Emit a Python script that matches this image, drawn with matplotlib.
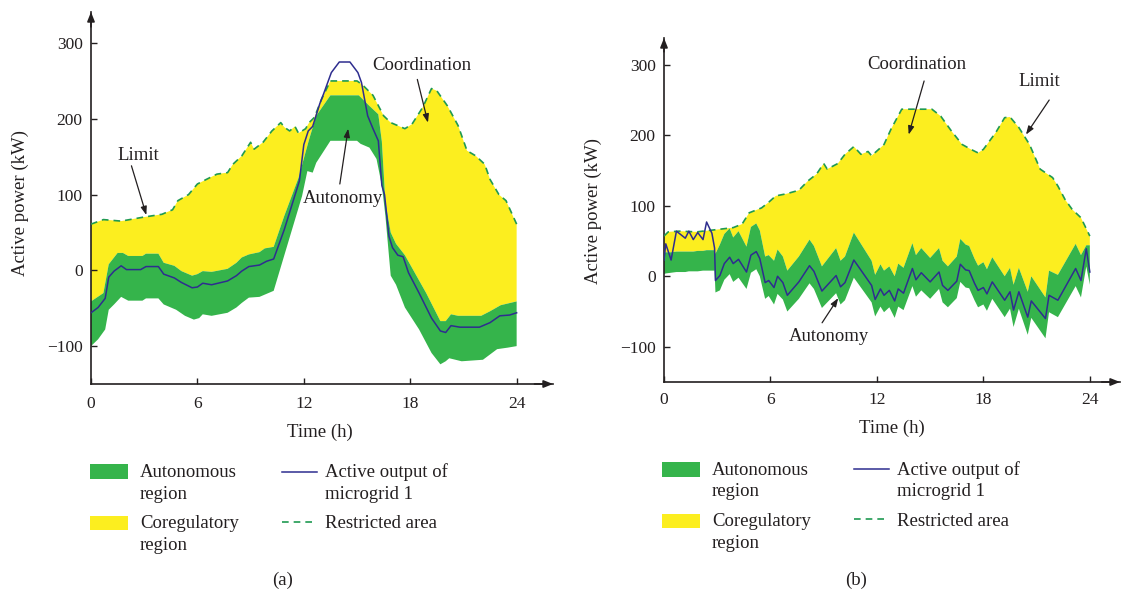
import numpy as np
import matplotlib
matplotlib.use("Agg")
import matplotlib.pyplot as plt
from matplotlib.patches import Rectangle
from matplotlib.lines import Line2D

plt.rcParams['font.family'] = ['Liberation Serif', 'DejaVu Serif']
plt.rcParams['axes.unicode_minus'] = True

# ---------------- data: panel (a) ----------------
t_limit_a = [0, 0.7, 1.7, 2.9, 4.0, 4.6, 4.9, 5.5, 6.0, 6.5, 7.1, 7.7, 8.0, 8.5, 9.0, 9.2,
             9.7, 10.2, 10.7, 10.9, 11.2, 11.5, 11.7, 12.1, 12.3, 12.6, 13.0, 13.5, 15.0,
             15.3, 15.9, 16.5, 16.9, 17.7, 18.1, 18.7, 19.2, 19.5, 20.1, 20.7, 21.2, 21.7,
             22.2, 22.5, 23.0, 23.4, 24.0]
limit_a = [61, 67, 65, 70, 74, 80, 92, 100, 114, 120, 127, 129, 140, 151, 169, 160,
           169, 184, 195, 189, 184, 190, 181, 187, 195, 202, 226, 250, 250,
           245, 231, 204, 195, 187, 193, 215, 240, 237, 217, 191, 158, 151,
           140, 120, 100, 92, 61]

t_upper_a = [0, 0.7, 1.0, 1.5, 1.8, 2.1, 2.9, 3.1, 3.8, 4.1, 4.7, 5.1, 5.7, 6.0, 6.3,
             6.8, 7.7, 8.2, 8.5, 8.9, 9.5, 9.8, 10.3, 10.9, 11.7, 12.3, 12.7, 13.5, 15.1,
             15.7, 16.2, 16.4, 16.6, 16.9, 17.2, 17.7, 18.9, 19.7, 20.0, 20.3, 20.7, 22.0,
             22.5, 23.1, 24.0]
upper_a = [-41, -30, 8, 23, 23, 19, 19, 22, 22, 10, 6, -1, -7, -5, -1,
           -2, 2, 10, 17, 21, 24, 29, 31, 72, 122, 173, 204, 231, 231,
           217, 206, 170, 90, 50, 35, 20, -30, -67, -67, -58, -60, -60,
           -54, -46, -41]

t_lower_a = [0, 0.4, 0.8, 1.0, 1.3, 1.7, 2.1, 2.9, 3.1, 3.8, 4.1, 4.8, 5.3, 5.8, 6.1,
             6.3, 6.8, 7.7, 8.2, 8.5, 8.9, 9.5, 9.8, 10.3, 11.9, 12.2, 12.5, 12.7, 13.5,
             15.0, 15.2, 15.7, 16.1, 16.4, 16.6, 16.9, 17.2, 17.7, 18.5, 19.2, 19.7, 20.0,
             20.2, 20.9, 22.1, 22.9, 23.5, 24.0]
lower_a = [-100, -91, -78, -52, -45, -35, -40, -40, -37, -37, -45, -52, -60, -65, -63,
           -58, -60, -56, -49, -43, -36, -35, -32, -27, 98, 131, 129, 142, 171,
           171, 167, 162, 147, 112, 72, -7, -19, -49, -78, -109, -124, -120,
           -116, -120, -118, -104, -102, -100]

t_output_a = [0, 0.4, 0.8, 1.0, 1.3, 1.7, 2.0, 2.8, 3.1, 3.8, 4.1, 4.7, 5.1, 5.7, 6.0,
              6.3, 6.8, 7.7, 8.2, 8.5, 8.9, 9.5, 9.9, 10.3, 10.9, 11.75, 12.0, 12.25, 12.5,
              12.9, 13.1, 13.55, 14.0, 14.6, 15.05, 15.25, 15.6, 15.9, 16.2, 16.4, 16.55,
              16.8, 17.0, 17.3, 17.6, 17.9, 18.5, 19.2, 19.7, 20.0, 20.3, 20.8, 21.9, 22.5,
              23.05, 23.6, 24.0]
output_a = [-56, -49, -37, -9, -1, 6, 1, 1, 5, 5, -5, -10, -16, -23, -22,
            -17, -19, -14, -7, -1, 5, 7, 12, 15, 54, 118, 166, 184, 190,
            220, 232, 261, 275, 275, 261, 248, 204, 187, 171, 112, 100,
            45, 30, 20, 18, -3, -30, -63, -80, -82, -73, -75, -75, -69,
            -60, -59, -56]

# ---------------- data: panel (b) ----------------
t_limit_b = [0, 0.24, 0.85, 1.85, 2.9, 3.9, 4.4, 4.8, 5.5, 5.9, 6.3, 6.9, 7.6, 8.1, 8.6,
             9.0, 9.2, 9.8, 10.2, 10.7, 11.1, 11.5, 11.7, 12.1, 12.4, 12.8, 13.4, 15.1,
             15.6, 16.2, 16.8, 17.3, 17.7, 18.0, 18.7, 19.2, 19.5, 20.0, 20.6, 21.2, 21.9,
             22.2, 22.6, 23.0, 23.5, 24.0]
limit_b = [57, 63, 64, 63, 66, 69, 74, 90, 97, 105, 114, 117, 122, 135, 145,
           160, 152, 160, 173, 184, 173, 177, 171, 180, 187, 209, 237, 237,
           227, 206, 187, 180, 175, 180, 204, 225, 226, 211, 187, 152, 140,
           128, 109, 95, 83, 57]

t_b = [0, 0.1, 0.4, 0.7, 1.2, 1.4, 1.65, 1.9, 2.2, 2.4, 2.7, 2.85, 2.9, 3.15, 3.4, 3.7,
       3.9, 4.2, 4.65, 4.9, 5.2, 5.4, 5.7, 5.9, 6.2, 6.4, 6.7, 6.95, 7.6, 8.2, 8.45, 8.9,
       9.7, 9.95, 10.2, 10.7, 11.7, 11.9, 12.2, 12.4, 12.7, 13.0, 13.2, 13.5, 14.0, 14.2,
       14.5, 15.0, 15.5, 15.7, 16.0, 16.5, 16.7, 17.0, 17.2, 17.5, 17.7, 18.0, 18.2, 18.5,
       19.2, 19.5, 19.7, 20.0, 20.5, 20.7, 21.5, 21.7, 22.2, 23.2, 23.5, 23.8, 24.0]
output_b = [23, 46, 23, 64, 54, 64, 52, 62, 52, 77, 61, 40, -6, 1, 18, 27,
            18, 24, 6, 30, 35, 25, -9, -6, -16, 0, -9, -27, -8, 15, 7, -21,
            1, -15, -9, 23, -13, -33, -18, -27, -20, -35, -18, -24, 11, -5,
            5, -8, 6, -13, -20, -7, 17, 9, 8, -10, -20, -16, -25, -8,
            -34, -22, -48, -22, -58, -35, -60, -27, -34, 11, -6, 39, 6]
upper_b = [33, 34, 34, 35, 35, 35, 35, 36, 36, 37, 37, 37, 32, 45, 60, 68,
           55, 64, 42, 70, 75, 65, 28, 30, 22, 38, 28, 8, 28, 52, 43, 14,
           40, 22, 28, 62, 22, 2, 17, 8, 14, 0, 18, 12, 47, 30,
           40, 26, 40, 22, 14, 28, 53, 45, 43, 25, 15, 20, 10, 27,
           0, 12, -12, 12, -22, 0, -30, 8, 2, 46, 30, 44, 44]
lower_b = [3, 4, 5, 6, 6, 7, 7, 7, 8, 8, 8, 8, -23, -20, -5, 3,
           -8, -2, -18, 5, 10, 0, -32, -28, -40, -25, -33, -50, -32, -10, -18, -45,
           -24, -40, -34, -2, -37, -57, -43, -51, -44, -59, -43, -48, -14, -29,
           -20, -32, -18, -37, -44, -31, -8, -16, -17, -34, -44, -40, -49, -32,
           -58, -46, -72, -46, -83, -59, -88, -51, -58, -14, -30, 14, -12]

x_ticks = [0, 6, 12, 18, 24]
y_ticks = [-100, 0, 100, 200, 300]
legend_labels = [["Autonomous", "region"], ["Coregulatory", "region"],
                 ["Active output of", "microgrid 1"], ["Restricted area"]]

# ---------------- styling ----------------
GREEN = '#35b44b'
YELLOW = '#fcee1f'
BLUE = '#2e2d8f'
DASH = '#1f9a52'
INK = '#231f20'
FS = 13.5

W, H = 1122, 590
fig = plt.figure(figsize=(W / 100, H / 100), dpi=100)


def px_rect(x0, y0, x1, y1):
    return [x0 / W, 1 - y1 / H, (x1 - x0) / W, (y1 - y0) / H]


axA = fig.add_axes(px_rect(91, 12, 553, 384))
axB = fig.add_axes(px_rect(664, 38, 1120, 382))


def draw_panel(ax, tl, lim, tu, up, tlo, lo, to, out):
    tl, lim, tu, up = map(np.asarray, (tl, lim, tu, up))
    tlo, lo, to, out = map(np.asarray, (tlo, lo, to, out))
    ax.fill(np.r_[tl, tu[::-1]], np.r_[lim, up[::-1]], color=YELLOW, lw=0, zorder=1)
    ax.fill(np.r_[tu, tlo[::-1]], np.r_[up, lo[::-1]], color=GREEN, lw=0, zorder=2)
    ax.plot(tl, lim, color=DASH, lw=1.2, linestyle=(0, (4, 3)), zorder=3)
    ax.plot(to, out, color=BLUE, lw=1.1, zorder=4)


def style(ax, xlim, ylim, xlab_pos, ylab_pos, xpad):
    ax.set_xlim(*xlim)
    ax.set_ylim(*ylim)
    for s in ['top', 'right']:
        ax.spines[s].set_visible(False)
    for s in ['left', 'bottom']:
        ax.spines[s].set_color(INK)
        ax.spines[s].set_linewidth(1.2)
    ax.set_xticks(x_ticks)
    ax.set_yticks(y_ticks)
    ax.tick_params(axis='both', direction='in', length=4, width=1.0, color=INK,
                   labelsize=12.5, labelcolor=INK)
    ax.tick_params(axis='x', pad=xpad)
    ax.tick_params(axis='y', pad=6)
    ax.set_xlabel('Time (h)', fontsize=FS, color=INK)
    ax.set_ylabel('Active power (kW)', fontsize=FS, color=INK)
    ax.xaxis.set_label_coords(*xlab_pos)
    ax.yaxis.set_label_coords(*ylab_pos)
    ax.xaxis.label.set_va('center')
    ax.yaxis.label.set_va('center')
    ax.yaxis.label.set_ha('center')
    ax.set_facecolor('none')
    ap = dict(arrowstyle='-|>,head_length=0.55,head_width=0.22', color=INK, lw=1.2,
              shrinkA=0, shrinkB=0)
    ax.annotate('', xy=(0, 1), xytext=(0, 0.96), xycoords='axes fraction',
                textcoords='axes fraction', arrowprops=ap, annotation_clip=False)
    ax.annotate('', xy=(1, 0), xytext=(0.96, 0), xycoords='axes fraction',
                textcoords='axes fraction', arrowprops=ap, annotation_clip=False)


def note(ax, text, txy, tail, head):
    ax.text(*txy, text, fontsize=FS, color=INK, ha='center', va='center', zorder=6)
    ax.annotate('', xy=head, xytext=tail,
                arrowprops=dict(arrowstyle='-|>,head_length=0.5,head_width=0.18',
                                color=INK, lw=0.9, shrinkA=0, shrinkB=0), zorder=6)


draw_panel(axA, t_limit_a, limit_a, t_upper_a, upper_a, t_lower_a, lower_a,
           t_output_a, output_a)
style(axA, (0, 26.05), (-150, 341), (0.496, -0.129), (-0.154, 0.487), 8.5)
note(axA, 'Limit', (2.65, 152), (2.28, 138), (3.12, 73))
note(axA, 'Coordination', (18.65, 271), (18.4, 252), (19.0, 195))
note(axA, 'Autonomy', (14.2, 95), (14.03, 114), (14.5, 187))

draw_panel(axB, t_limit_b, limit_b, t_b, upper_b, t_b, lower_b, t_b, output_b)
style(axB, (0, 25.7), (-150, 338), (0.5, -0.134), (-0.154, 0.497), 7)
note(axB, 'Coordination', (14.25, 301), (14.66, 277), (13.79, 201))
note(axB, 'Limit', (21.15, 277), (21.71, 250), (20.4, 201))
note(axB, 'Autonomy', (9.27, -85), (8.91, -66), (9.82, -31))


# ---------------- legends (figure pixel layout) ----------------
def fxy(x, y):
    return x / W, 1 - y / H


def legend(x_patch, y_g, y_y, x_text1, x_line0, x_line1, y_line, y_dash, x_text2,
           baselines, cap_xy, cap):
    for (ytop, ybot), col in zip([y_g, y_y], [GREEN, YELLOW]):
        fig.add_artist(Rectangle(fxy(x_patch[0], ybot), (x_patch[1] - x_patch[0]) / W,
                                 (ybot - ytop) / H, transform=fig.transFigure,
                                 color=col, lw=0))
    fig.add_artist(Line2D([x_line0 / W, x_line1 / W], [1 - y_line / H] * 2,
                          transform=fig.transFigure, color=BLUE, lw=1.1))
    fig.add_artist(Line2D([x_line0 / W, x_line1 / W], [1 - y_dash / H] * 2,
                          transform=fig.transFigure, color=DASH, lw=1.2,
                          linestyle=(0, (4, 3))))
    b1, b2, b3, b4 = baselines
    col1 = [(legend_labels[0][0], b1), (legend_labels[0][1], b2),
            (legend_labels[1][0], b3), (legend_labels[1][1], b4)]
    col2 = [(legend_labels[2][0], b1), (legend_labels[2][1], b2),
            (legend_labels[3][0], b3)]
    for s, b in col1:
        fig.text(*fxy(x_text1, b), s, fontsize=FS, color=INK, va='baseline', ha='left')
    for s, b in col2:
        fig.text(*fxy(x_text2, b), s, fontsize=FS, color=INK, va='baseline', ha='left')
    fig.text(*fxy(*cap_xy), cap, fontsize=FS, color=INK, ha='center', va='center')


legend((90, 128), (464, 479), (516, 530), 140, 282, 317, 472, 522, 325,
       (477, 499, 528.5, 550), (283, 580), '(a)')
legend((662, 700), (462, 477), (514, 528), 712, 854, 889, 469, 519, 897,
       (475, 496.5, 526, 548), (856, 580), '(b)')

fig.savefig('out.png', dpi=100, facecolor='white')
